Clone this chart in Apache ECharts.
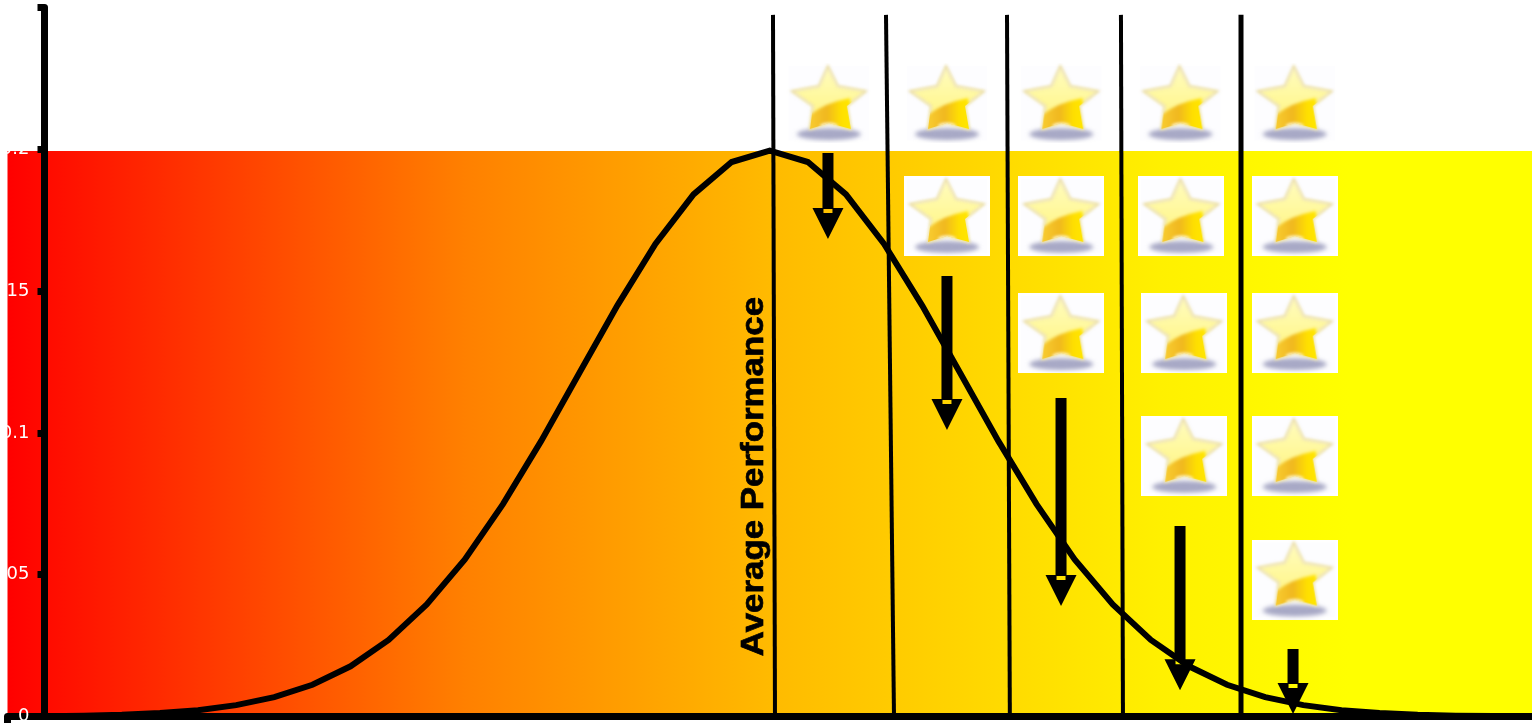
<!DOCTYPE html>
<html>
<head>
<meta charset="utf-8">
<title>Average Performance</title>
<style>
html, body { margin: 0; padding: 0; background: #fff; }
#chart { width: 1532px; height: 723px; }
</style>
<script src="https://cdn.jsdelivr.net/npm/echarts@6/dist/echarts.min.js"></script>
</head>
<body>
<div id="chart"></div>
<script>
// bell curve
var curveX = [-7.6, -7.2, -6.8, -6.4, -6, -5.6, -5.2, -4.8, -4.4, -4, -3.6, -3.2, -2.8, -2.4, -2, -1.6, -1.2, -0.8, -0.4, 0,
    0.4, 0.8, 1.2, 1.6, 2, 2.4, 2.8, 3.2, 3.6, 4, 4.4, 4.8, 5.2, 5.6, 6, 6.4, 6.8, 7.2, 7.6, 8];
var curveY = [0.0001, 0.0003, 0.0006, 0.0012, 0.0022, 0.004, 0.0068, 0.0112, 0.0177, 0.027, 0.0395, 0.0554, 0.0749, 0.0971, 0.121, 0.1449, 0.1666, 0.1841, 0.1955, 0.1995,
    0.1955, 0.1841, 0.1666, 0.1449, 0.121, 0.0971, 0.0749, 0.0554, 0.0395, 0.027, 0.0177, 0.0112, 0.0068, 0.004, 0.0022, 0.0012, 0.0006, 0.0003, 0.0002, 0.0001];
var bandTop = 0.1994;
// dividers: [x at top, x at bottom]
var dividerX = [[0.034, 0.055], [1.22, 1.304], [2.49, 2.52], [3.686, 3.707], [4.946, 4.946]];
var dividerTop = 0.2474;
// arrows: x, value at tail, value at tip
var arrowX = [0.611, 1.86, 3.057, 4.306, 5.492];
var arrowTail = [0.1987, 0.1553, 0.1123, 0.0672, 0.0238];
var arrowTip = [0.1684, 0.101, 0.039, 0.0093, 0.0009];
// stars, one [x, y] per picture
var starPoints = [
    [0.62, 0.2163],
    [1.86, 0.2163], [1.86, 0.1765],
    [3.06, 0.2163], [3.06, 0.1765], [3.06, 0.1352],
    [4.31, 0.2163], [4.32, 0.1765], [4.35, 0.1352], [4.35, 0.0919],
    [5.51, 0.2163], [5.51, 0.1765], [5.51, 0.1352], [5.51, 0.0919], [5.51, 0.0483]
];
var yTicks = [0, 0.05, 0.1, 0.15, 0.2, 0.25];

// the star picture, drawn once and reused
function makeStar() {
    var c = document.createElement('canvas');
    c.width = 86;
    c.height = 80;
    var g = c.getContext('2d');
    g.fillStyle = '#fff';
    g.fillRect(0, 0, 86, 80);
    g.fillStyle = '#fdfdff';
    g.fillRect(3, 3, 80, 74);
    g.filter = 'blur(2px)';
    g.fillStyle = '#a8a9c6';
    g.beginPath();
    g.ellipse(43, 71, 32, 6, 0, 0, Math.PI * 2);
    g.fill();
    g.filter = 'blur(1.5px)';
    var pts = [[42, 3], [52, 23], [80, 28], [61, 43], [65, 66], [43, 60], [24, 66], [27, 43], [6, 28], [33, 23]];
    function starPath() {
        g.beginPath();
        pts.forEach(function (p, i) {
            if (i === 0) g.moveTo(p[0], p[1]); else g.lineTo(p[0], p[1]);
        });
        g.closePath();
    }
    starPath();
    var pale = g.createLinearGradient(0, 3, 0, 50);
    pale.addColorStop(0, '#fffcc0');
    pale.addColorStop(1, '#fff68c');
    g.fillStyle = pale;
    g.fill();
    g.strokeStyle = '#eaddaa';
    g.lineWidth = 2;
    g.stroke();
    // darker lower part under the swoosh
    g.save();
    starPath();
    g.clip();
    var grad = g.createLinearGradient(24, 0, 66, 0);
    grad.addColorStop(0, '#f8cc30');
    grad.addColorStop(0.4, '#f0b820');
    grad.addColorStop(0.75, '#ffe000');
    grad.addColorStop(1, '#ffe600');
    g.fillStyle = grad;
    g.beginPath();
    g.moveTo(24, 52);
    g.quadraticCurveTo(38, 40, 64, 35);
    g.lineTo(68, 68);
    g.lineTo(20, 68);
    g.closePath();
    g.fill();
    g.fillStyle = '#fff6d0';
    g.beginPath();
    g.ellipse(43, 63, 9, 3.5, 0, 0, Math.PI * 2);
    g.fill();
    g.restore();
    return c;
}
var starImage = makeStar();

function renderBand(params, api) {
    var a = api.coord([api.value(0), api.value(2)]);
    var b = api.coord([api.value(1), 0]);
    return {
        type: 'rect',
        shape: { x: a[0], y: a[1], width: b[0] - a[0], height: b[1] - a[1] },
        style: {
            fill: new echarts.graphic.LinearGradient(0, 0, 1, 0, [
                { offset: 0, color: '#ff0000' },
                { offset: 0.3, color: '#ff8000' },
                { offset: 0.5, color: '#ffba00' },
                { offset: 0.755, color: '#fff000' },
                { offset: 0.88, color: '#ffff00' },
                { offset: 1, color: '#ffff00' }
            ])
        }
    };
}

function renderArrow(params, api) {
    var t = api.coord([api.value(0), api.value(1)]);
    var e = api.coord([api.value(0), api.value(2)]);
    var x = t[0], top = t[1], tip = e[1], head = tip - 31;
    // keyhole outline so the little slot in the head stays open
    var points = [
        [x - 5.5, top], [x + 5.5, top], [x + 5.5, head],
        [x + 15.5, head], [x, tip], [x - 15.5, head], [x - 5.5, head],
        [x - 4.5, head + 1], [x - 4.5, head + 5], [x + 4.5, head + 5], [x + 4.5, head + 1], [x - 4.5, head + 1],
        [x - 5.5, head]
    ];
    return { type: 'polygon', shape: { points: points }, style: { fill: '#000' } };
}

function renderStar(params, api) {
    var p = api.coord([api.value(0), api.value(1)]);
    return {
        type: 'image',
        style: { image: starImage, x: p[0] - 43, y: p[1] - 40, width: 86, height: 80 }
    };
}

function renderLabel(params, api) {
    var p = api.coord([api.value(0), api.value(1)]);
    return {
        type: 'text',
        x: p[0],
        y: p[1],
        rotation: Math.PI / 2,
        scaleX: 1.09,
        style: {
            text: 'Average Performance',
            fill: '#000',
            stroke: '#000',
            lineWidth: 0.7,
            font: 'bold 32px "Liberation Sans"',
            align: 'center',
            verticalAlign: 'middle'
        }
    };
}

var series = [
    { type: 'custom', z: 1, silent: true, clip: false, renderItem: renderBand, data: [[-8, 8, bandTop]] },
    {
        type: 'line', z: 4, silent: true, symbol: 'none', smooth: false,
        lineStyle: { color: '#000', width: 6, join: 'miter' },
        data: curveX.map(function (x, i) { return [x, curveY[i]]; })
    }
];
dividerX.forEach(function (d, i) {
    series.push({
        type: 'line', z: 3, silent: true, symbol: 'none',
        lineStyle: { color: '#000', width: i === 4 ? 5 : 4 },
        data: [[d[0], dividerTop], [d[1], 0]]
    });
});
series.push({
    type: 'custom', z: 5, silent: true, renderItem: renderArrow,
    data: arrowX.map(function (x, i) { return [x, arrowTail[i], arrowTip[i]]; })
});
series.push({ type: 'custom', z: 3, silent: true, renderItem: renderStar, data: starPoints });
series.push({ type: 'custom', z: 4, silent: true, renderItem: renderLabel, data: [[-0.16, 0.0846]] });

var myChart = echarts.init(document.getElementById('chart'));
myChart.setOption({
    animation: false,
    grid: { left: 7.5, right: 0, top: 7.5, bottom: 6.5, outerBoundsMode: 'none' },
    xAxis: {
        type: 'value', min: -8, max: 8, z: 6,
        splitLine: { show: false },
        axisLabel: { show: false },
        axisLine: { onZero: false, lineStyle: { color: '#000', width: 7 } },
        axisTick: { show: true, customValues: [-8], length: 7, lineStyle: { color: '#000', width: 7 } }
    },
    yAxis: {
        type: 'value', min: 0, max: 0.25, interval: 0.05, z: 7,
        offset: -37,
        splitLine: { show: false },
        axisLine: { show: true, onZero: false, lineStyle: { color: '#000', width: 7 } },
        axisTick: { show: true, customValues: yTicks, length: 7, lineStyle: { color: '#000', width: 7 } },
        axisLabel: { color: '#fff', fontSize: 18, margin: 15, fontFamily: 'DejaVu Sans', hideOverlap: false }
    },
    series: series
});
</script>
</body>
</html>
